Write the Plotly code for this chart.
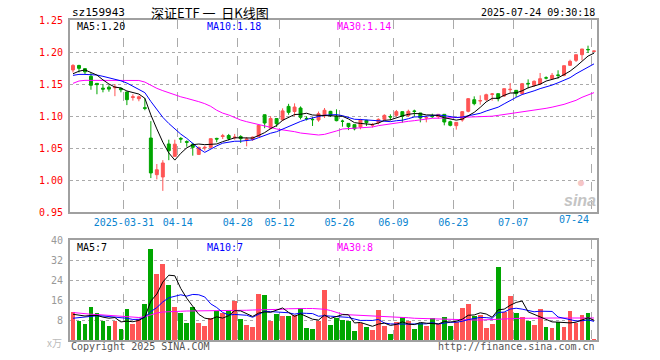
import plotly.graph_objects as go
import pandas as pd

# ---------------- data ----------------
day_index = list(range(88))

open_ = [1.172, 1.179, 1.174, 1.162, 1.151, 1.1435, 1.145, 1.144, 1.143, 1.1375,
         1.129, 1.127, 1.113, 1.0656, 1.0083, 1.0047, 1.0563, 1.037, 1.065, 1.060,
         1.056, 1.040, 1.050, 1.051, 1.065, 1.068, 1.0695, 1.066, 1.068, 1.063,
         1.0635, 1.068, 1.102, 1.081, 1.096, 1.094, 1.115, 1.107, 1.1125, 1.0963,
         1.0948, 1.0937, 1.1005, 1.1073, 1.0995, 1.092, 1.0885, 1.0865, 1.0828, 1.0932,
         1.0857, 1.0896, 1.0948, 1.099, 1.101, 1.1068, 1.1005, 1.1078, 1.1047, 1.0969,
         1.0995, 1.099, 1.1026, 1.0911, 1.0849, 1.0937, 1.1073, 1.1255, 1.1235, 1.1255,
         1.1339, 1.1349, 1.1313, 1.1411, 1.1401, 1.1349, 1.151, 1.1479, 1.150, 1.1596,
         1.1583, 1.1641, 1.1635, 1.1792, 1.187, 1.1958, 1.204, 1.201]
high = [1.181, 1.180, 1.175, 1.167, 1.151, 1.150, 1.148, 1.150, 1.145, 1.138,
        1.134, 1.132, 1.128, 1.092, 1.025, 1.031, 1.063, 1.063, 1.067, 1.062,
        1.058, 1.052, 1.0536, 1.065, 1.066, 1.072, 1.072, 1.072, 1.070, 1.067,
        1.068, 1.086, 1.102, 1.0995, 1.096, 1.112, 1.119, 1.1198, 1.115, 1.0995,
        1.098, 1.107, 1.1125, 1.108, 1.1104, 1.0943, 1.0885, 1.0865, 1.0958, 1.094,
        1.089, 1.0963, 1.1026, 1.1026, 1.1094, 1.1068, 1.1099, 1.1099, 1.1047, 1.0995,
        1.1036, 1.1026, 1.1026, 1.0927, 1.0906, 1.1078, 1.1281, 1.1307, 1.1323, 1.1349,
        1.1359, 1.1349, 1.1427, 1.1516, 1.1406, 1.1516, 1.1573, 1.1557, 1.1672, 1.162,
        1.1672, 1.1714, 1.1786, 1.188, 1.1958, 1.2047, 1.2099, 1.2016]
low = [1.168, 1.168, 1.165, 1.141, 1.134, 1.137, 1.138, 1.131, 1.137, 1.117,
       1.124, 1.123, 1.109, 1.003, 1.001, 0.983, 1.031, 1.036, 1.058, 1.052,
       1.038, 1.039, 1.046, 1.050, 1.059, 1.064, 1.062, 1.063, 1.058, 1.0526,
       1.061, 1.067, 1.081, 1.079, 1.083, 1.092, 1.102, 1.100, 1.0947, 1.093,
       1.0844, 1.091, 1.0969, 1.0984, 1.0917, 1.0833, 1.078, 1.0776, 1.0792, 1.0844,
       1.082, 1.087, 1.0932, 1.0932, 1.099, 1.0896, 1.0984, 1.0995, 1.0901, 1.0901,
       1.0969, 1.0958, 1.0854, 1.0838, 1.0787, 1.0911, 1.1057, 1.1167, 1.1177, 1.1229,
       1.124, 1.1229, 1.1297, 1.1365, 1.1297, 1.1339, 1.1432, 1.1453, 1.1495, 1.1573,
       1.1573, 1.1583, 1.162, 1.1781, 1.1844, 1.187, 1.1984, 1.2005]
close = [1.179, 1.1745, 1.169, 1.148, 1.149, 1.142, 1.142, 1.145, 1.141, 1.1255,
         1.130, 1.130, 1.112, 1.011, 1.016, 1.0266, 1.0458, 1.056, 1.064, 1.059,
         1.051, 1.051, 1.051, 1.0646, 1.064, 1.069, 1.065, 1.067, 1.0646, 1.064,
         1.067, 1.0854, 1.089, 1.096, 1.088, 1.108, 1.1057, 1.114, 1.0979, 1.0958,
         1.0943, 1.1036, 1.109, 1.1005, 1.0927, 1.0917, 1.0833, 1.080, 1.0943, 1.0896,
         1.0862, 1.0948, 1.101, 1.0985, 1.1068, 1.0995, 1.1073, 1.1073, 1.0969, 1.0974,
         1.099, 1.1026, 1.0906, 1.0854, 1.0901, 1.1068, 1.1271, 1.1193, 1.124, 1.1333,
         1.1344, 1.1271, 1.1427, 1.1417, 1.1349, 1.1505, 1.1505, 1.1542, 1.1583, 1.1594,
         1.1635, 1.1635, 1.1786, 1.1854, 1.1958, 1.2047, 1.2036, 1.2015]
volume = [11.1, 7.7, 6.4, 13.2, 10.8, 7.6, 5.6, 7.7, 4.4, 12.4,
          6.4, 8.3, 14.4, 36.4, 26.4, 30.4, 22.0, 13.3, 10.9, 6.9,
          13.3, 6.9, 5.7, 8.8, 11.7, 10.7, 11.7, 15.7, 8.4, 6.0,
          5.3, 18.4, 18.0, 7.7, 10.4, 9.6, 9.5, 10.1, 12.7, 4.9,
          4.4, 7.8, 20.0, 6.0, 8.9, 8.0, 7.6, 3.6, 7.0, 5.2,
          4.0, 12.0, 5.6, 2.4, 7.1, 9.2, 7.6, 4.5, 6.7, 5.6,
          8.8, 6.5, 9.2, 5.7, 7.3, 12.9, 14.4, 9.8, 10.0, 4.9,
          6.4, 29.3, 11.1, 17.6, 10.7, 9.3, 7.6, 6.0, 12.4, 5.3,
          4.9, 7.1, 5.3, 11.6, 6.7, 10.0, 10.9, 0.4]

# moving-average values read at the first candles (their window starts before the chart)
price_ma5_head = [1.166, 1.170, 1.172, 1.168]
price_ma10_head = [1.1635, 1.165, 1.165, 1.165, 1.164, 1.162, 1.160, 1.158, 1.155]
vol_ma5_head = [10.3, 10.0, 9.6, 9.8]
vol_ma10_head = [8.7, 9.0, 9.3, 9.6, 9.7, 9.6, 9.4, 9.2, 8.8]

# 30-day averages
price_ma30 = [1.151, 1.1547, 1.1557, 1.1557, 1.1557, 1.1557, 1.1557, 1.1557, 1.1557, 1.1557,
              1.1557, 1.1555, 1.153, 1.148, 1.1432, 1.1396, 1.136, 1.133, 1.130, 1.1276,
              1.1255, 1.1224, 1.1193, 1.1151, 1.109, 1.1045, 1.1016, 1.0974, 1.0937, 1.0911,
              1.0891, 1.0865, 1.0844, 1.0823, 1.0797, 1.0786, 1.0771, 1.0755, 1.0734, 1.0724,
              1.0708, 1.0703, 1.0713, 1.0734, 1.0766, 1.0797, 1.0802, 1.0807, 1.0812, 1.0818,
              1.0828, 1.0849, 1.0865, 1.0875, 1.0891, 1.0901, 1.0917, 1.0927, 1.0943, 1.0953,
              1.0964, 1.0966, 1.0969, 1.0969, 1.0971, 1.0974, 1.0974, 1.0979, 1.0984, 1.0990,
              1.0997, 1.1010, 1.1023, 1.1036, 1.1047, 1.1063, 1.1073, 1.1086, 1.1099, 1.1120,
              1.1138, 1.1156, 1.1182, 1.1214, 1.1245, 1.1292, 1.1333, 1.1365]
vol_ma30 = [11.0, 10.7, 10.5, 10.3, 10.2, 10.0, 9.8, 9.7, 9.6, 9.4,
            9.3, 9.0, 9.3, 10.2, 10.8, 11.2, 11.4, 11.5, 11.5, 11.6,
            11.6, 11.6, 11.6, 11.6, 11.7, 11.7, 11.8, 11.9, 11.9, 11.9,
            12.0, 12.0, 12.1, 12.2, 12.2, 12.3, 12.5, 12.6, 12.6, 12.6,
            12.6, 12.5, 12.3, 11.8, 11.0, 10.3, 10.1, 10.0, 9.9, 9.8,
            9.8, 9.7, 9.6, 9.5, 9.3, 9.1, 8.9, 8.7, 8.6, 8.5,
            8.5, 8.4, 8.2, 8.1, 8.1, 8.0, 8.0, 8.0, 8.0, 8.0,
            8.0, 8.3, 8.4, 8.6, 8.6, 8.7, 8.7, 8.8, 8.8, 8.8,
            8.8, 8.8, 8.8, 8.8, 8.8, 8.8, 8.8, 8.8]

date_label_index = [9, 18, 28, 35, 45, 54, 64, 74, 87]
date_labels = ["2025-03-31", "04-14", "04-28", "05-12", "05-26", "06-09", "06-23", "07-07", "07-24"]
price_ticks = [0.95, 1.00, 1.05, 1.10, 1.15, 1.20, 1.25]
volume_ticks = [8, 16, 24, 32, 40]

# ---------------- derived series ----------------
def moving_average(values, n, head):
    s = pd.Series(values).rolling(n).mean().tolist()
    s[:len(head)] = head
    return s

ma5 = moving_average(close, 5, price_ma5_head)
ma10 = moving_average(close, 10, price_ma10_head)
vma5 = moving_average(volume, 5, vol_ma5_head)
vma10 = moving_average(volume, 10, vol_ma10_head)

RED = "#FF5555"
GREEN = "#00A600"
MONO = "DejaVu Sans Mono"

bar_colors = [RED if c >= o else GREEN for o, c in zip(open_, close)]

fig = go.Figure()
fig.add_trace(go.Candlestick(
    x=day_index, open=open_, high=high, low=low, close=close,
    increasing=dict(line=dict(color=RED, width=1), fillcolor=RED),
    decreasing=dict(line=dict(color=GREEN, width=1), fillcolor=GREEN),
    whiskerwidth=0, xaxis="x", yaxis="y", showlegend=False, hoverinfo="skip"))
for ys, col in [(price_ma30, "#FF00FF"), (ma10, "#0000FF"), (ma5, "#000000")]:
    fig.add_trace(go.Scatter(x=day_index, y=ys, mode="lines", line=dict(color=col, width=1),
                             xaxis="x", yaxis="y", showlegend=False, hoverinfo="skip"))

fig.add_trace(go.Bar(x=day_index, y=volume, marker=dict(color=bar_colors, line=dict(width=0)),
                     width=0.8, xaxis="x2", yaxis="y2", showlegend=False, hoverinfo="skip"))
for ys, col in [(vol_ma30, "#FF00FF"), (vma10, "#0000FF"), (vma5, "#000000")]:
    fig.add_trace(go.Scatter(x=day_index, y=ys, mode="lines", line=dict(color=col, width=1),
                             xaxis="x2", yaxis="y2", showlegend=False, hoverinfo="skip"))

grid_x = [i - 0.5 for i in date_label_index]
tick_text = date_labels[:-1] + [""]

axis_line = dict(showline=True, mirror=True, linecolor="#A0A0A0", linewidth=2, zeroline=False)

fig.update_layout(
    width=660, height=360,
    margin=dict(l=70, r=63, t=20, b=20, autoexpand=False),
    paper_bgcolor="white", plot_bgcolor="white",
    hovermode=False, bargap=0,
    font=dict(family=MONO, size=10, color="#000"),
    xaxis=dict(domain=[0, 1], anchor="y", range=[-0.5, 87.5], rangeslider=dict(visible=False),
               tickmode="array", tickvals=grid_x, ticktext=tick_text, ticks="",
               tickfont=dict(family=MONO, size=10, color="#0A84D0"),
               showgrid=True, gridcolor="#AAAAAA", griddash="dash", gridwidth=1, **axis_line),
    xaxis2=dict(domain=[0, 1], anchor="y2", range=[-0.5, 87.5], matches="x",
                tickmode="array", tickvals=grid_x, showticklabels=False, ticks="",
                showgrid=True, gridcolor="#AAAAAA", griddash="dash", gridwidth=1, **axis_line),
    yaxis=dict(domain=[0.4, 1], anchor="x", range=[0.95, 1.25], tickmode="array",
               tickvals=price_ticks, ticktext=[f"{v:.2f}" for v in price_ticks], ticks="",
               tickfont=dict(family=MONO, size=10, color="#FF0000"), ticklabelstandoff=3,
               showgrid=True, gridcolor="#AAAAAA", griddash="dot", gridwidth=1, **axis_line),
    yaxis2=dict(domain=[0, 0.3125], anchor="x2", range=[0, 40], tickmode="array",
                tickvals=volume_ticks, ticktext=[str(v) for v in volume_ticks], ticks="",
                tickfont=dict(family=MONO, size=10, color="#999999"), ticklabelstandoff=3,
                showgrid=True, gridcolor="#AAAAAA", griddash="dot", gridwidth=1, **axis_line),
)

def px_x(px):
    return (px - 70) / 527.0

def px_y(py):
    return (340 - py) / 320.0

def note(text, x, y, color="#000", size=10, xanchor="left", family=MONO, **kw):
    fig.add_annotation(text=text, x=px_x(x), y=px_y(y), xref="paper", yref="paper",
                       xanchor=xanchor, yanchor="middle", showarrow=False,
                       font=dict(family=family, size=size, color=color), **kw)

NB = "\u00a0"
note("sz159943", 70, 13, size=11)
note(f"深证ETF{NB}一{NB}{NB}日K线图", 210, 13, size=13, xanchor="center", family="Noto Sans CJK SC")
note("2025-07-24 09:30:18", 597, 13, size=10, xanchor="right")
note(f"MA5:{ma5[-1]:.2f}", 75, 26)
note(f"MA10:{ma10[-1]:.2f}", 205, 26, color="#0000FF")
note(f"MA30:{price_ma30[-1]:.2f}", 335, 26, color="#FF00FF")
note("MA5:7", 75, 247)
note(f"MA10:{int(vma10[-1])}", 205, 247, color="#0000FF")
note(f"MA30:{int(vol_ma30[-1])}", 335, 247, color="#FF00FF")
note("Copyright 2025 SINA.COM", 69, 346, color="#555555")
note("http://finance.sina.com.cn", 597, 346, color="#555555", xanchor="right")
note("x万", 64, 342, color="#BBBBBB", xanchor="right", family="Noto Sans CJK SC")
note("●", 581, 182, color="#F6C6C6", size=10, xanchor="center")
note("<b><i>sina</i></b>", 580, 200, color="#C4C4C4", size=16, xanchor="center", family="Arial, Liberation Sans")

fig.add_annotation(text=date_labels[-1], x=date_label_index[-1] - 0.5, xref="x", y=px_y(219), yref="paper",
                   xanchor="right", yanchor="middle", showarrow=False,
                   font=dict(family=MONO, size=10, color="#0A84D0"))

# remove the page's default 8px body margin so the figure sits at the window's corner
fig.write_html("out.html", config={"displayModeBar": False},
               post_script="document.body.style.margin='0';")
